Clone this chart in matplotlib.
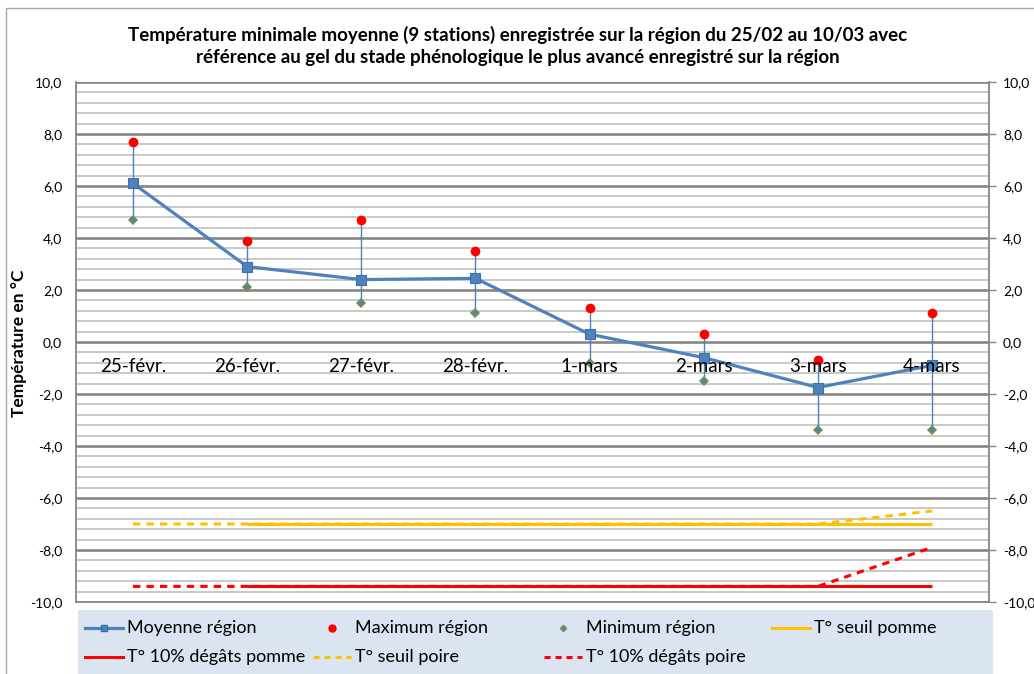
import matplotlib
matplotlib.use("Agg")
import matplotlib.pyplot as plt
import numpy as np
from matplotlib.ticker import FuncFormatter, MultipleLocator
from matplotlib.patches import Rectangle
from matplotlib.lines import Line2D

plt.rcParams['font.family'] = ['Lato', 'DejaVu Sans']

categories = ["25-févr.", "26-févr.", "27-févr.", "28-févr.", "1-mars", "2-mars", "3-mars", "4-mars"]
moyenne = [6.1, 2.9, 2.4, 2.45, 0.3, -0.6, -1.75, -0.9]
maximum = [7.7, 3.9, 4.7, 3.5, 1.3, 0.3, -0.7, 1.1]
minimum = [4.7, 2.1, 1.5, 1.1, -0.8, -1.5, -3.4, -3.4]
seuil_pomme = [np.nan, -7.0, -7.0, -7.0, -7.0, -7.0, -7.0, -7.0]
degats_pomme = [np.nan, -9.4, -9.4, -9.4, -9.4, -9.4, -9.4, -9.4]
seuil_poire = [-7.0, -7.0, -7.0, -7.0, -7.0, -7.0, -7.0, -6.5]
degats_poire = [-9.4, -9.4, -9.4, -9.4, -9.4, -9.4, -9.4, -7.9]

title = ("Température minimale moyenne (9 stations) enregistrée sur la région du 25/02 au 10/03 avec\n"
         "référence au gel du stade phénologique le plus avancé enregistré sur la région")
ylabel = "Température en °C"

W, H = 1034, 674
fig = plt.figure(figsize=(W / 100, H / 100), dpi=100)

def fx(px):
    return px / W

def fy(py):
    return 1 - py / H

# plot area
L, R, T, B = 76, 989, 82, 602
ax = fig.add_axes([fx(L), fy(B), fx(R) - fx(L), fy(T) - fy(B)])
x = np.arange(len(categories))
ax.set_xlim(-0.5, len(categories) - 0.5)
ax.set_ylim(-10, 10)

ax.yaxis.set_major_locator(MultipleLocator(2))
ax.yaxis.set_minor_locator(MultipleLocator(0.4))
ax.grid(which='minor', axis='y', color='#c4c4c4', lw=1.3, zorder=0)
ax.grid(which='major', axis='y', color='#868686', lw=1.9, zorder=0.5)
ax.set_xticks([])
fmt = FuncFormatter(lambda v, p: f"{v:.1f}".replace('.', ','))
ax.yaxis.set_major_formatter(fmt)
ax.tick_params(axis='y', which='minor', length=0)
ax.tick_params(axis='y', which='major', left=False, right=True, labelleft=True, labelright=True,
               length=5, color='#868686', width=1, labelsize=10, pad=5)
for s in ['left', 'right', 'bottom', 'top']:
    ax.spines[s].set_color('#868686')
    ax.spines[s].set_linewidth(1.3)
ax.spines['top'].set_visible(False)
for lab in ax.get_yticklabels():
    pass

# error bars min-max
ax.vlines(x, minimum, maximum, color='#4f81bd', lw=1.0, zorder=3)

# thresholds
ax.plot(x, seuil_pomme, color='#ffc000', lw=2.2, zorder=2, solid_capstyle='butt')
ax.plot(x, degats_pomme, color='#ff0000', lw=2.2, zorder=2, solid_capstyle='butt')
ax.plot(x, seuil_poire, color='#ffc000', lw=2.2, ls=(0, (2.4, 2.0)), zorder=2.1)
ax.plot(x, degats_poire, color='#ff0000', lw=2.2, ls=(0, (2.4, 2.0)), zorder=2.1)

# mean line
ax.plot(x, moyenne, color='#4f81bd', lw=2.3, marker='s', ms=6.5, mfc='#4f81bd', mec='#3d6fa8',
        mew=0.8, zorder=4)
ax.plot(x, maximum, ls='none', marker='o', ms=6, mfc='#ff0000', mec='#ff0000', zorder=5)
ax.plot(x, minimum, ls='none', marker='D', ms=3.6, mfc='#4f81bd', mec='#77933c', mew=1.1, zorder=5)

# category labels at the zero crossing
for i, c in enumerate(categories):
    ax.text(i, -0.95, c, ha='center', va='center', fontsize=13.5, color='#000000', zorder=6)

# title and y label
fig.text(fx(518), fy(46), title, ha='center', va='center', fontsize=13.5, fontweight='bold',
         linespacing=1.3)
fig.text(fx(19), fy(343), ylabel, rotation=90, ha='center', va='center', fontsize=12.5,
         fontweight='bold')

# overlay for frame and legend
ov = fig.add_axes([0, 0, 1, 1], zorder=-1)
ov.set_xlim(0, W)
ov.set_ylim(H, 0)
ov.axis('off')
ov.add_patch(Rectangle((6, 8), W + 20, H + 20, fill=False, ec='#a6a6a6', lw=1))

lg = fig.add_axes([0, 0, 1, 1], zorder=5)
lg.set_xlim(0, W)
lg.set_ylim(H, 0)
lg.axis('off')
lg.patch.set_alpha(0)
lg.add_patch(Rectangle((78, 610), 993 - 78, 64, fc='#dbe5f1', ec='none'))

legend_items = [
    # text_x, row_y, label, line style, marker style
    (127, 628, "Moyenne région", dict(color='#4f81bd', lw=2.3),
     dict(marker='s', ms=5, mfc='#4f81bd', mec='#3d6fa8')),
    (355, 628, "Maximum région", None, dict(marker='o', ms=5, mfc='#ff0000', mec='#ff0000')),
    (586, 628, "Minimum région", None, dict(marker='D', ms=3.2, mfc='#4f81bd', mec='#77933c', mew=1.0)),
    (814, 628, "T° seuil pomme", dict(color='#ffc000', lw=2.2), None),
    (127, 657, "T° 10% dégâts pomme", dict(color='#ff0000', lw=2.2), None),
    (355, 657, "T° seuil poire", dict(color='#ffc000', lw=2.2, ls=(0, (2.0, 1.6))), None),
    (586, 657, "T° 10% dégâts poire", dict(color='#ff0000', lw=2.2, ls=(0, (2.0, 1.6))), None),
]
for tx, ty, lab, lstyle, mstyle in legend_items:
    if lstyle is not None:
        lg.add_line(Line2D([tx - 42, tx - 4], [ty, ty], **lstyle))
    if mstyle is not None:
        lg.add_line(Line2D([tx - 23], [ty], ls='none', **mstyle))
    lg.text(tx, ty, lab, ha='left', va='center', fontsize=13, color='#000000')

fig.savefig("out.png", dpi=100)
